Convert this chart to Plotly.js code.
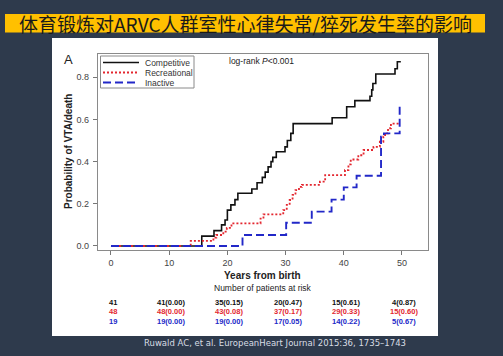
<!DOCTYPE html>
<html>
<head>
<meta charset="utf-8">
<script src="https://cdn.plot.ly/plotly-3.0.1.min.js"></script>
<style>
html,body{margin:0;padding:0;background:#2e3a4c;}
#chart{width:503px;height:356px;}
</style>
</head>
<body>
<div id="chart"></div>
<script>
// ---- Data ----
const seriesNames = ["Competitive", "Recreational", "Inactive"];

const compTime = [0, 15.6, 17.7, 19.0, 19.6, 20.0, 20.6, 21.3, 21.8, 24.2, 25.1, 26.0, 26.5, 27.0, 27.5, 27.8, 28.4, 29.9, 30.3, 30.9, 31.3, 38.0, 40.5, 41.9, 44.5, 44.8, 45.0, 45.5, 48.8, 49.2, 49.8];
const compProb = [0, 0.047, 0.073, 0.10, 0.123, 0.17, 0.195, 0.22, 0.25, 0.27, 0.30, 0.325, 0.35, 0.375, 0.40, 0.42, 0.447, 0.47, 0.50, 0.534, 0.58, 0.608, 0.66, 0.689, 0.71, 0.74, 0.77, 0.815, 0.84, 0.873, 0.873];

const recTime = [0, 13.7, 17.6, 18.1, 19.3, 19.9, 20.7, 25.7, 26.2, 29.6, 30.2, 30.7, 31.2, 31.7, 32.3, 32.8, 35.9, 36.8, 40.2, 40.8, 41.2, 42.5, 43.4, 45.1, 46.2, 46.8, 47.1, 47.6, 48.1, 49.6];
const recProb = [0, 0.024, 0.04, 0.052, 0.068, 0.086, 0.107, 0.13, 0.15, 0.17, 0.195, 0.218, 0.242, 0.265, 0.28, 0.29, 0.305, 0.336, 0.36, 0.387, 0.41, 0.43, 0.455, 0.47, 0.494, 0.518, 0.534, 0.558, 0.58, 0.58];

const inaTime = [0, 22.6, 30.1, 34.5, 37.9, 40.0, 42.2, 46.4, 46.9, 49.6];
const inaProb = [0, 0.052, 0.11, 0.163, 0.22, 0.278, 0.333, 0.518, 0.534, 0.668];

const xTicks = [0, 10, 20, 30, 40, 50];
const yTicks = [0, 0.2, 0.4, 0.6, 0.8];
const yTickText = ["0.0", "0.2", "0.4", "0.6", "0.8"];

const riskTimes = [0, 10, 20, 30, 40, 50];
const riskComp = ["41", "41(0.00)", "35(0.15)", "20(0.47)", "15(0.61)", "4(0.87)"];
const riskRec  = ["48", "48(0.00)", "43(0.08)", "37(0.17)", "29(0.33)", "15(0.60)"];
const riskIna  = ["19", "19(0.00)", "19(0.00)", "17(0.05)", "14(0.22)", "5(0.67)"];

const titleText = "体育锻炼对ARVC人群室性心律失常/猝死发生率的影响";
const citeText = "Ruwald AC, et al. EuropeanHeart Journal 2015:36, 1735–1743";

// ---- Styling ----
const colors = ["#111111", "#e3262f", "#2228c8"];
const dashes = ["solid", "2px,2px", "8px,4px"];
const widths = [1.6, 1.8, 1.9];

const W = 503, H = 356;
const L = 98, R = 428, T = 54, B = 250;
const px2x = p => (p - L) / (R - L);
const py2y = p => (B - p) / (B - T);

const sans = "Liberation Sans, Arial, sans-serif";

const times = [compTime, recTime, inaTime];
const probs = [compProb, recProb, inaProb];
const traces = seriesNames.map((n, i) => ({
  type: "scatter", mode: "lines", name: n,
  x: times[i], y: probs[i],
  line: {shape: "hv", color: colors[i], width: widths[i], dash: dashes[i]},
  hoverinfo: "x+y+name", showlegend: false
}));
// draw order: red and blue over black like reference
const data = [traces[0], traces[1], traces[2]];

const shapes = [
  // white panel
  {type: "rect", xref: "paper", yref: "paper", layer: "below",
   x0: px2x(52), x1: px2x(438), y0: py2y(336), y1: py2y(38),
   fillcolor: "#ffffff", line: {width: 0}},
  // yellow title bar
  {type: "rect", xref: "paper", yref: "paper", layer: "below",
   x0: px2x(5), x1: px2x(485), y0: py2y(32.5), y1: py2y(14),
   fillcolor: "#ffc000", line: {width: 0}},
  // legend box
  {type: "rect", xref: "paper", yref: "paper",
   x0: px2x(100.5), x1: px2x(194), y0: py2y(88), y1: py2y(56),
   fillcolor: "rgba(255,255,255,0)", line: {color: "#8a8a8a", width: 1}}
];
const legY = [62.5, 72.5, 82.5];
seriesNames.forEach((n, i) => {
  shapes.push({type: "line", xref: "paper", yref: "paper",
    x0: px2x(103), x1: px2x(139), y0: py2y(legY[i]), y1: py2y(legY[i]),
    line: {color: colors[i], width: widths[i], dash: dashes[i]}});
});

const annotations = [
  {text: titleText, xref: "paper", yref: "paper", x: px2x(245), y: py2y(23.5),
   xanchor: "center", yanchor: "middle", showarrow: false,
   font: {family: "Noto Sans CJK SC, sans-serif", size: 19, color: "#1a1a1a"}},
  {text: citeText, xref: "paper", yref: "paper", x: px2x(275), y: py2y(343),
   xanchor: "center", yanchor: "middle", showarrow: false,
   font: {family: "DejaVu Sans, sans-serif", size: 8.5, color: "#d8dde4"}},
  {text: "A", xref: "paper", yref: "paper", x: px2x(68), y: py2y(59.5),
   xanchor: "center", yanchor: "middle", showarrow: false,
   font: {family: sans, size: 13, color: "#222"}},
  {text: "log-rank <i>P</i><0.001", xref: "paper", yref: "paper", x: px2x(261), y: py2y(61.5),
   xanchor: "center", yanchor: "middle", showarrow: false,
   font: {family: sans, size: 8.5, color: "#222"}},
  {text: "<b>Years from birth</b>", xref: "paper", yref: "paper", x: px2x(262.5), y: py2y(275.5),
   xanchor: "center", yanchor: "middle", showarrow: false,
   font: {family: sans, size: 10, color: "#222"}},
  {text: "Number of patients at risk", xref: "paper", yref: "paper", x: px2x(263), y: py2y(287.5),
   xanchor: "center", yanchor: "middle", showarrow: false,
   font: {family: sans, size: 8.5, color: "#222"}},
  {text: "<b>Probability of VTA/death</b>", xref: "paper", yref: "paper", x: px2x(68), y: py2y(152),
   xanchor: "center", yanchor: "middle", showarrow: false, textangle: -90,
   font: {family: sans, size: 10, color: "#222"}}
];
seriesNames.forEach((n, i) => {
  annotations.push({text: n, xref: "paper", yref: "paper", x: px2x(142.5), y: py2y(legY[i]),
    xanchor: "left", yanchor: "middle", showarrow: false,
    font: {family: sans, size: 8.5, color: "#333"}});
});
const riskRows = [riskComp, riskRec, riskIna];
const riskY = [302, 311.5, 321];
riskRows.forEach((row, r) => {
  row.forEach((t, k) => {
    annotations.push({text: "<b>" + t + "</b>", xref: "x", yref: "paper",
      x: riskTimes[k], y: py2y(riskY[r]), xshift: 2,
      xanchor: "center", yanchor: "middle", showarrow: false,
      font: {family: sans, size: 7.5, color: colors[r]}});
  });
});

const layout = {
  width: W, height: H,
  margin: {l: L, r: W - R, t: T, b: H - B, pad: 0},
  paper_bgcolor: "#2e3a4c",
  plot_bgcolor: "#ffffff",
  showlegend: false,
  font: {family: sans, color: "#444"},
  xaxis: {
    range: [-2.23, 54.47], tickvals: xTicks, ticks: "outside", ticklen: 4,
    tickcolor: "#777", showline: true, linecolor: "#8a8a8a", linewidth: 1.2, mirror: true,
    showgrid: false, zeroline: false, tickfont: {size: 9, color: "#444"}
  },
  yaxis: {
    range: [-0.019, 0.91], tickvals: yTicks, ticktext: yTickText, ticks: "outside", ticklen: 4,
    tickcolor: "#777", showline: true, linecolor: "#8a8a8a", linewidth: 1.2, mirror: true,
    showgrid: false, zeroline: false, tickfont: {size: 9, color: "#444"}, ticklabelstandoff: 2
  },
  shapes: shapes,
  annotations: annotations
};

Plotly.newPlot("chart", data, layout, {displayModeBar: false, staticPlot: true});
</script>
</body>
</html>
